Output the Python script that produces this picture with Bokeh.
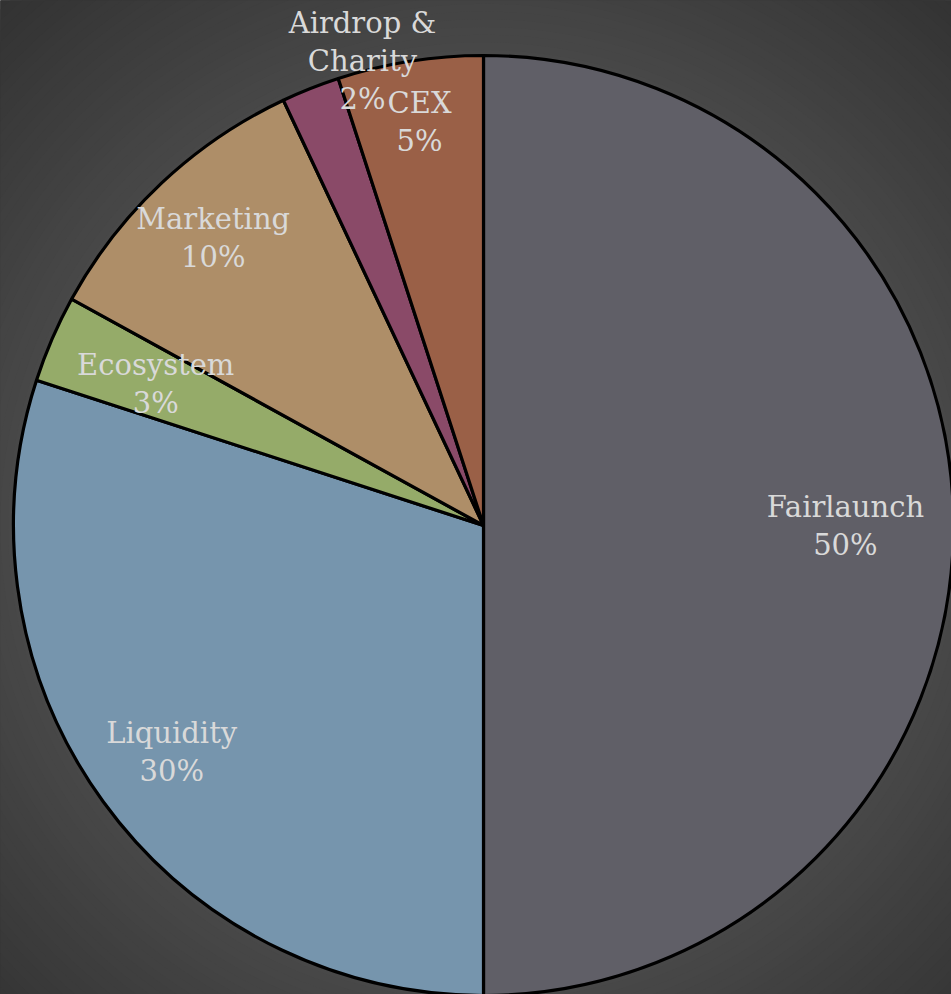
import math
from bokeh.plotting import figure
from bokeh.models import Range1d, ColumnDataSource
from bokeh.core.properties import value
from bokeh.embed import file_html
from bokeh.resources import INLINE

# ---- data ----
categories = ["Fairlaunch", "Liquidity", "Ecosystem", "Marketing", "Airdrop & Charity", "CEX"]
shares = [50, 30, 3, 10, 2, 5]
label_lines = [["Fairlaunch"], ["Liquidity"], ["Ecosystem"], ["Marketing"], ["Airdrop &", "Charity"], ["CEX"]]
colors = ["#605f67", "#7695ad", "#95ab69", "#ae8e68", "#8a4a68", "#9a6047"]

W, H = 951, 994
cx, cy = 483, H - 525
R = 470

p = figure(width=W, height=H, output_backend="svg", toolbar_location=None,
           x_range=Range1d(0, W), y_range=Range1d(0, H), min_border=0,
           background_fill_color="#313131", border_fill_color="#313131",
           outline_line_color=None)
p.axis.visible = False
p.grid.visible = False

# radial gradient background (decoration)
n = 36
r_out, r_in = 730, 460
for i in range(n):
    t = i / (n - 1)
    r = r_out - (r_out - r_in) * t
    c = int(round(0x31 + (0x49 - 0x31) * t))
    p.circle(x=[cx], y=[cy], radius=r, radius_units="screen",
             fill_color="#%02x%02x%02x" % (c, c, c), line_color=None)

# wedges (clockwise from top)
total = sum(shares)
starts, ends, mids = [], [], []
a = math.pi / 2
for s in shares:
    span = 2 * math.pi * s / total
    starts.append(a - span)
    ends.append(a)
    mids.append(a - span / 2)
    a -= span

src = ColumnDataSource(dict(start=starts, end=ends, color=colors, cat=categories))
p.wedge(x=cx, y=cy, radius=R, start_angle="start", end_angle="end",
        fill_color="color", line_color="black", line_width=3.2, source=src)

# labels
rfac = {"Fairlaunch": 0.77, "Liquidity": 0.82, "Ecosystem": 0.76,
        "Marketing": 0.84, "CEX": 0.87}
font = value("DejaVu Serif")
lh = 38
for cat, share, lines, m in zip(categories, shares, label_lines, mids):
    all_lines = lines + ["%d%%" % share]
    if cat in rfac:
        lx = cx + R * rfac[cat] * math.cos(m)
        ly = cy + R * rfac[cat] * math.sin(m)
    else:
        lx = cx - 121
        ly = cy + 465
    nlines = len(all_lines)
    for k, t in enumerate(all_lines):
        yy = ly + (nlines - 1) / 2 * lh - k * lh
        p.text(x=[lx], y=[yy], text=[t], text_font=font, text_font_size="29px",
               text_color="#d9d9d9", text_align="center", text_baseline="middle")

open("out.html", "w").write(file_html(p, INLINE))
